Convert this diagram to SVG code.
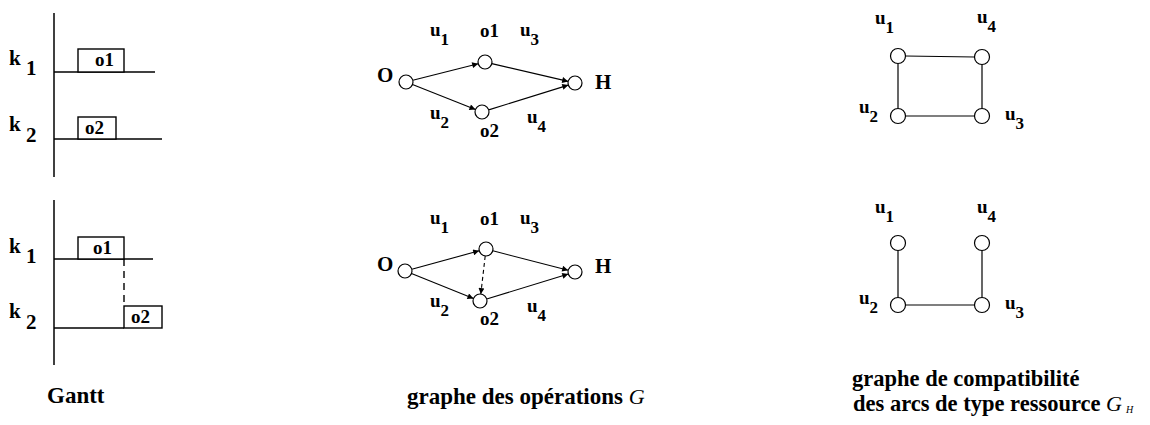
<svg xmlns="http://www.w3.org/2000/svg" width="1150" height="425" viewBox="0 0 1150 425">
<style>
text{font-family:"Liberation Serif","Times New Roman",serif;font-weight:bold;fill:#000}
.cap{font-size:23px}
.cap2{font-size:22.5px}
.k{font-size:21px}
.ks{font-size:21px}
.box{fill:#fff;stroke:#000;stroke-width:1.4}
.bt{font-size:19px}
.ax{stroke:#000;stroke-width:1.5;fill:none}
.nd{fill:#fff;stroke:#000;stroke-width:1.2}
.nl{font-size:19px}
.big{font-size:21px}
.u{font-size:19px}
.sub{font-size:17px}
.e{stroke:#000;stroke-width:1.2;fill:none}
.ea{stroke:#000;stroke-width:1.1;fill:none;marker-end:url(#ah)}
.ed{stroke:#000;stroke-width:1.1;fill:none;stroke-dasharray:4 3;marker-end:url(#ah)}
.g{font-family:"Liberation Serif",serif;font-style:italic;font-weight:normal}
</style>
<defs>
<marker id="ah" viewBox="0 0 10 10" refX="10" refY="5" markerWidth="8" markerHeight="6" markerUnits="userSpaceOnUse" orient="auto">
<path d="M0,0 L10,5 L0,10 Z" fill="#000"/>
</marker>
</defs>

<!-- Gantt top -->
<g id="gantt-top">
<line class="ax" x1="54" y1="13" x2="54" y2="177"/>
<line class="ax" x1="54" y1="72" x2="155" y2="72"/>
<line class="ax" x1="54" y1="139" x2="162" y2="139"/>
<rect class="box" x="78" y="49" width="46" height="23"/>
<text class="bt" x="95" y="66">o1</text>
<rect class="box" x="78" y="117" width="38" height="22"/>
<text class="bt" x="85" y="134">o2</text>
<text class="k" x="9" y="65">k</text><text class="ks" x="26" y="75">1</text>
<text class="k" x="9" y="131">k</text><text class="ks" x="26" y="142">2</text>
</g>

<!-- Gantt bottom -->
<g id="gantt-bottom">
<line class="ax" x1="54" y1="200" x2="54" y2="365"/>
<line class="ax" x1="54" y1="259" x2="153" y2="259"/>
<line class="ax" x1="54" y1="328" x2="124" y2="328"/>
<line x1="124" y1="259" x2="124" y2="306" stroke="#000" stroke-width="1.4" stroke-dasharray="7 5"/>
<rect class="box" x="78" y="237" width="46" height="22"/>
<text class="bt" x="93" y="254">o1</text>
<rect class="box" x="124" y="306" width="38" height="22"/>
<text class="bt" x="131" y="323">o2</text>
<text class="k" x="9" y="253">k</text><text class="ks" x="26" y="263">1</text>
<text class="k" x="9" y="318">k</text><text class="ks" x="26" y="329">2</text>
<text class="cap" x="47" y="403">Gantt</text>
</g>

<!-- Operation graph top -->
<g id="connectors-top">
<line class="ea" x1="412.8" y1="80.3" x2="478.2" y2="63.7"/>
<line class="ea" x1="412.5" y1="84.6" x2="475.5" y2="109.4"/>
<line class="ea" x1="491.8" y1="63.6" x2="568.2" y2="81.4"/>
<line class="ea" x1="488.7" y1="109.9" x2="568.3" y2="85.1"/>
</g>
<g id="op-top-O"><circle class="nd" cx="406" cy="82" r="7"/><text class="big" x="377" y="82">O</text></g>
<g id="op-top-o1"><circle class="nd" cx="485" cy="62" r="7"/><text class="nl" x="480" y="37">o1</text></g>
<g id="op-top-o2"><circle class="nd" cx="482" cy="112" r="7"/><text class="nl" x="480" y="137">o2</text></g>
<g id="op-top-H"><circle class="nd" cx="575" cy="83" r="7"/><text class="big" x="595" y="89">H</text></g>
<g id="op-top-labels">
<text class="u" x="430" y="36">u<tspan class="sub" dy="9">1</tspan></text>
<text class="u" x="520" y="36">u<tspan class="sub" dy="9">3</tspan></text>
<text class="u" x="430" y="119">u<tspan class="sub" dy="9">2</tspan></text>
<text class="u" x="527" y="123">u<tspan class="sub" dy="9">4</tspan></text>
</g>

<!-- Operation graph bottom -->
<g id="connectors-bottom">
<line class="ea" x1="411.8" y1="269.2" x2="479.2" y2="250.8"/>
<line class="ea" x1="411.5" y1="273.6" x2="473.5" y2="298.4"/>
<line class="ea" x1="492.8" y1="250.8" x2="568.2" y2="270.2"/>
<line class="ea" x1="486.7" y1="299" x2="568.3" y2="274"/>
<line class="ed" x1="485.2" y1="256" x2="480.8" y2="294"/>
</g>
<g id="op-bot-O"><circle class="nd" cx="405" cy="271" r="7"/><text class="big" x="377" y="271">O</text></g>
<g id="op-bot-o1"><circle class="nd" cx="486" cy="249" r="7"/><text class="nl" x="480" y="225">o1</text></g>
<g id="op-bot-o2"><circle class="nd" cx="480" cy="301" r="7"/><text class="nl" x="480" y="325">o2</text></g>
<g id="op-bot-H"><circle class="nd" cx="575" cy="272" r="7"/><text class="big" x="595" y="273">H</text></g>
<g id="op-bot-labels">
<text class="u" x="430" y="224">u<tspan class="sub" dy="9">1</tspan></text>
<text class="u" x="520" y="224">u<tspan class="sub" dy="9">3</tspan></text>
<text class="u" x="430" y="307">u<tspan class="sub" dy="9">2</tspan></text>
<text class="u" x="527" y="312">u<tspan class="sub" dy="9">4</tspan></text>
</g>
<text class="cap" x="407" y="404">graphe des opérations <tspan class="g" font-size="22">G</tspan></text>

<!-- Compatibility graph top -->
<g id="connectors-comp-top">
<line class="e" x1="905.5" y1="56" x2="974.5" y2="57"/>
<line class="e" x1="898" y1="63.5" x2="898" y2="108.5"/>
<line class="e" x1="982" y1="64.5" x2="982" y2="108.5"/>
<line class="e" x1="905.5" y1="116" x2="974.5" y2="116"/>
</g>
<g id="c-top-u1"><circle class="nd" cx="898" cy="56" r="7.5"/><text class="u" x="875" y="24">u<tspan class="sub" dy="9">1</tspan></text></g>
<g id="c-top-u4"><circle class="nd" cx="982" cy="57" r="7.5"/><text class="u" x="977" y="23">u<tspan class="sub" dy="9">4</tspan></text></g>
<g id="c-top-u2"><circle class="nd" cx="898" cy="116" r="7.5"/><text class="u" x="859" y="113">u<tspan class="sub" dy="9">2</tspan></text></g>
<g id="c-top-u3"><circle class="nd" cx="982" cy="116" r="7.5"/><text class="u" x="1005" y="120">u<tspan class="sub" dy="9">3</tspan></text></g>

<!-- Compatibility graph bottom -->
<g id="connectors-comp-bottom">
<line class="e" x1="898" y1="250.5" x2="898" y2="297.5"/>
<line class="e" x1="982" y1="250.5" x2="982" y2="297.5"/>
<line class="e" x1="905.5" y1="305" x2="974.5" y2="305"/>
</g>
<g id="c-bot-u1"><circle class="nd" cx="898" cy="243" r="7.5"/><text class="u" x="875" y="213">u<tspan class="sub" dy="9">1</tspan></text></g>
<g id="c-bot-u4"><circle class="nd" cx="982" cy="243" r="7.5"/><text class="u" x="977" y="213">u<tspan class="sub" dy="9">4</tspan></text></g>
<g id="c-bot-u2"><circle class="nd" cx="898" cy="305" r="7.5"/><text class="u" x="859" y="304">u<tspan class="sub" dy="9">2</tspan></text></g>
<g id="c-bot-u3"><circle class="nd" cx="982" cy="305" r="7.5"/><text class="u" x="1005" y="309">u<tspan class="sub" dy="9">3</tspan></text></g>

<text class="cap2" x="852" y="386">graphe de compatibilité</text>
<text class="cap2" x="853" y="411">des arcs de type ressource <tspan class="g" font-size="22">G</tspan><tspan class="g" font-size="10" dx="4" dy="2">H</tspan></text>
</svg>
